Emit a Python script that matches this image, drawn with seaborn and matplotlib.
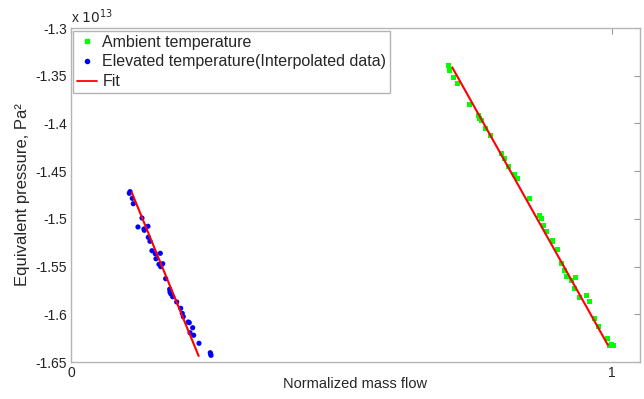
import numpy as np
import pandas as pd
import matplotlib
matplotlib.use("Agg")
import matplotlib.pyplot as plt
import seaborn as sns
from matplotlib.ticker import FixedLocator, FuncFormatter
from matplotlib.lines import Line2D

# Data (pressure in units of 1e13 Pa^2)
amb_x = [0.6974, 0.7006, 0.7074, 0.7153, 0.7362, 0.7536, 0.7560, 0.7597, 0.7671, 0.7750,
         0.7954, 0.8022, 0.8091, 0.8194, 0.8262, 0.8471, 0.8656, 0.8706, 0.8730, 0.8786,
         0.8904, 0.8996, 0.9070, 0.9131, 0.9168, 0.9255, 0.9329, 0.9316, 0.9403, 0.9525,
         0.9588, 0.9686, 0.9747, 0.9926, 0.9963, 0.9994, 1.0024]
amb_y = [-1.3398, -1.3447, -1.3517, -1.3584, -1.3800, -1.3922, -1.3946, -1.3971, -1.4048, -1.4124,
         -1.4320, -1.4365, -1.4453, -1.4530, -1.4575, -1.4785, -1.4960, -1.5001, -1.5068, -1.5130,
         -1.5232, -1.5323, -1.5466, -1.5546, -1.5606, -1.5641, -1.5617, -1.5732, -1.5822, -1.5808,
         -1.5868, -1.6046, -1.6126, -1.6256, -1.6322, -1.6314, -1.6329]

elev_x = [0.1091, 0.1078, 0.1133, 0.1152, 0.1312, 0.1238, 0.1349, 0.1355, 0.1423, 0.1429,
          0.1460, 0.1497, 0.1558, 0.1571, 0.1651, 0.1627, 0.1658, 0.1695, 0.1750, 0.1824,
          0.1830, 0.1848, 0.1880, 0.1954, 0.2028, 0.2057, 0.2076, 0.2168, 0.2187, 0.2250,
          0.2200, 0.2268, 0.2366, 0.2575, 0.2588, 0.2582]
elev_y = [-1.4715, -1.4732, -1.4785, -1.4841, -1.4991, -1.5085, -1.5106, -1.5120, -1.5078, -1.5193,
          -1.5235, -1.5334, -1.5365, -1.5418, -1.5361, -1.5476, -1.5501, -1.5470, -1.5627, -1.5738,
          -1.5767, -1.5787, -1.5816, -1.5871, -1.5937, -1.5990, -1.6025, -1.6081, -1.6088, -1.6141,
          -1.6193, -1.6220, -1.6304, -1.6403, -1.6430, -1.6416]

fit_amb_x = [0.7048, 0.9926]
fit_amb_y = [-1.3412, -1.6322]
fit_elev_x = [0.1122, 0.2360]
fit_elev_y = [-1.4722, -1.6437]

y_ticks = [-1.65, -1.6, -1.55, -1.5, -1.45, -1.4, -1.35, -1.3]
x_ticks = [0, 1]

labels = ["Ambient temperature", "Elevated temperature(Interpolated data)", "Fit"]

sns.set_style("white")
plt.rcParams['font.family'] = ['Liberation Sans', 'DejaVu Sans']

fig = plt.figure(figsize=(6.44, 3.99), dpi=100)
ax = fig.add_axes([71/644, 1-362/399, (640-71)/644, (362-28)/399])

df_amb = pd.DataFrame({"x": amb_x, "y": amb_y})
df_elev = pd.DataFrame({"x": elev_x, "y": elev_y})
sns.scatterplot(data=df_amb, x="x", y="y", ax=ax, color=(0, 1, 0), marker="s", s=13,
                edgecolor="none", legend=False)
sns.scatterplot(data=df_elev, x="x", y="y", ax=ax, color=(0, 0, 1), marker="o", s=14,
                edgecolor="none", legend=False)
sns.lineplot(x=fit_amb_x, y=fit_amb_y, ax=ax, color="red", lw=1.5, legend=False)
sns.lineplot(x=fit_elev_x, y=fit_elev_y, ax=ax, color="red", lw=1.5, legend=False)

ax.set_xlim(0, 1.052)
ax.set_ylim(-1.65, -1.3)
ax.xaxis.set_major_locator(FixedLocator(x_ticks))
ax.yaxis.set_major_locator(FixedLocator(y_ticks))
ax.yaxis.set_major_formatter(FuncFormatter(lambda v, p: f"{v:g}"))
ax.xaxis.set_major_formatter(FuncFormatter(lambda v, p: f"{v:g}"))
ax.tick_params(direction="in", length=4, width=0.8, color="#999999",
               top=True, right=True, labelsize=10, labelcolor="#222222", pad=3)
for s in ax.spines.values():
    s.set_color("#b5b5b5")
    s.set_linewidth(1.0)

ax.set_xlabel("Normalized mass flow", fontsize=10.5, labelpad=-2)
ax.set_ylabel("Equivalent pressure, Pa²", fontsize=12, labelpad=4)
ax.text(0.0, 1.005, r"x $10^{13}$", transform=ax.transAxes, fontsize=10,
        ha="left", va="bottom")

handles = [
    Line2D([], [], color=(0, 1, 0), marker="s", ls="none", markersize=3),
    Line2D([], [], color=(0, 0, 1), marker="o", ls="none", markersize=3),
    Line2D([], [], color="red", lw=1.3),
]
leg = ax.legend(handles, labels, loc="upper left", bbox_to_anchor=(0.003, 0.992),
                fontsize=11.5, frameon=True, fancybox=False, handlelength=1.3,
                handletextpad=0.3, borderpad=0.25, labelspacing=0.3, borderaxespad=0.0)
leg.get_frame().set_edgecolor("#a0a0a0")
leg.get_frame().set_linewidth(1.0)

fig.savefig("out.png", dpi=100)
